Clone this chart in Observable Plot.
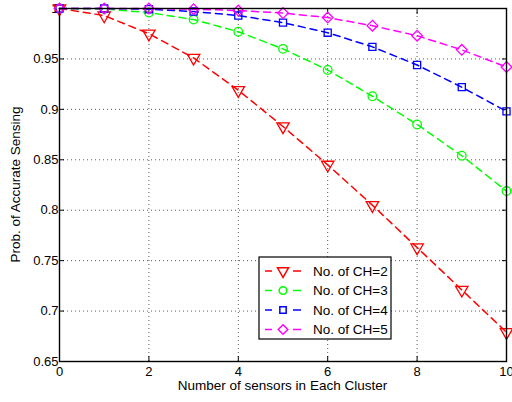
<!DOCTYPE html>
<html>
<head>
<meta charset="utf-8">
<script src="https://cdn.jsdelivr.net/npm/d3@7"></script>
<script src="https://cdn.jsdelivr.net/npm/@observablehq/plot@0.6"></script>
<style>
  body { margin: 0; background: #fff; }
  #chart { position: relative; width: 512px; height: 402px; }
  svg { font-family: "Liberation Sans", Arial, sans-serif; }
</style>
</head>
<body>
<div id="chart"></div>
<script>
const xs = [0, 1, 2, 3, 4, 5, 6, 7, 8, 9, 10];
const ch2 = [1.000, 0.993, 0.975, 0.951, 0.919, 0.883, 0.845, 0.805, 0.763, 0.721, 0.679];
const ch3 = [1.000, 0.9995, 0.996, 0.989, 0.977, 0.960, 0.939, 0.913, 0.885, 0.854, 0.819];
const ch4 = [1.000, 1.000, 0.9993, 0.997, 0.993, 0.986, 0.976, 0.962, 0.944, 0.922, 0.898];
const ch5 = [1.000, 1.000, 1.000, 0.9993, 0.998, 0.9955, 0.991, 0.983, 0.973, 0.959, 0.942];
const seriesNames = ["No. of CH=2", "No. of CH=3", "No. of CH=4", "No. of CH=5"];
const seriesColors = ["#ff0000", "#00ff00", "#0000ff", "#ff00ff"];
const seriesSymbols = ["triangle", "circle", "square", "diamond2"];
const seriesRotate = [180, 0, 0, 0];
const seriesR = [4.6, 4.3, 4.0, 4.8];
const xTicks = [0, 2, 4, 6, 8, 10];
const yTicks = [0.65, 0.7, 0.75, 0.8, 0.85, 0.9, 0.95, 1];
const xLabel = "Number of sensors in Each Cluster";
const yLabel = "Prob. of Accurate Sensing";

const allSeries = [ch2, ch3, ch4, ch5];
const data = [];
allSeries.forEach((vals, si) => vals.forEach((v, i) => data.push({x: xs[i], y: v, s: si})));

const fmt = d => String(+d.toFixed(2));
const marks = [
  Plot.ruleX(xTicks, {stroke: "#333", strokeDasharray: "1,3", strokeWidth: 0.8}),
  Plot.ruleY(yTicks, {stroke: "#333", strokeDasharray: "1,3", strokeWidth: 0.8}),
  Plot.axisX({anchor: "bottom", ticks: xTicks, tickSize: -5, tickPadding: 10, tickFormat: fmt, fontSize: 13, label: null}),
  Plot.axisX({anchor: "top", ticks: xTicks, tickSize: -5, tickFormat: () => "", label: null}),
  Plot.axisY({anchor: "left", ticks: yTicks, tickSize: -5, tickPadding: 6, tickFormat: fmt, fontSize: 13, label: null}),
  Plot.axisY({anchor: "right", ticks: yTicks, tickSize: -5, tickFormat: () => "", label: null}),
];
allSeries.forEach((vals, si) => {
  const d = data.filter(p => p.s === si);
  marks.push(Plot.line(d, {x: "x", y: "y", stroke: seriesColors[si], strokeWidth: 1.5, strokeDasharray: "7,5"}));
  marks.push(Plot.dot(d, {x: "x", y: "y", stroke: seriesColors[si], symbol: seriesSymbols[si], r: seriesR[si], rotate: seriesRotate[si], strokeWidth: 1.3, fill: "none"}));
});
marks.push(Plot.frame({stroke: "#000", strokeWidth: 1.4}));

const plot = Plot.plot({
  width: 512,
  height: 402,
  marginLeft: 59,
  marginRight: 6,
  marginTop: 8,
  marginBottom: 41,
  x: {domain: [0, 10], label: null},
  y: {domain: [0.65, 1], label: null},
  style: {fontFamily: "Liberation Sans, Arial, sans-serif", fontSize: "13px", color: "#000", background: "#fff"},
  marks
});
document.getElementById("chart").appendChild(plot);

const svg = d3.select(plot);
// axis titles
svg.append("text").attr("x", (59 + 506) / 2).attr("y", 390).attr("text-anchor", "middle")
  .attr("font-size", 13.5).attr("fill", "#000").text(xLabel);
svg.append("text").attr("transform", "translate(20," + (8 + 361) / 2 + ") rotate(-90)")
  .attr("text-anchor", "middle").attr("font-size", 13.5).attr("fill", "#000").text(yLabel);

// legend
const lg = svg.append("g").attr("transform", "translate(259,257)");
lg.append("rect").attr("width", 132).attr("height", 82).attr("fill", "#fff").attr("stroke", "#000").attr("stroke-width", 1.2);
const symMap = {triangle: d3.symbolTriangle, circle: d3.symbolCircle, square: d3.symbolSquare, diamond2: d3.symbolDiamond2};
seriesNames.forEach((name, i) => {
  const cy = 14 + i * 19.5;
  lg.append("line").attr("x1", 6).attr("x2", 13).attr("y1", cy).attr("y2", cy).attr("stroke", seriesColors[i]).attr("stroke-width", 1.5);
  lg.append("line").attr("x1", 34).attr("x2", 42).attr("y1", cy).attr("y2", cy).attr("stroke", seriesColors[i]).attr("stroke-width", 1.5);
  lg.append("path").attr("d", d3.symbol(symMap[seriesSymbols[i]], Math.PI * seriesR[i] * seriesR[i] * 0.8)())
    .attr("transform", "translate(24," + cy + ") rotate(" + seriesRotate[i] + ")")
    .attr("fill", "none").attr("stroke", seriesColors[i]).attr("stroke-width", 1.5);
  lg.append("text").attr("x", 54).attr("y", cy).attr("dy", "0.35em").attr("text-anchor", "start")
    .attr("font-size", 13.5).attr("fill", "#000").text(name);
});
</script>
</body>
</html>
